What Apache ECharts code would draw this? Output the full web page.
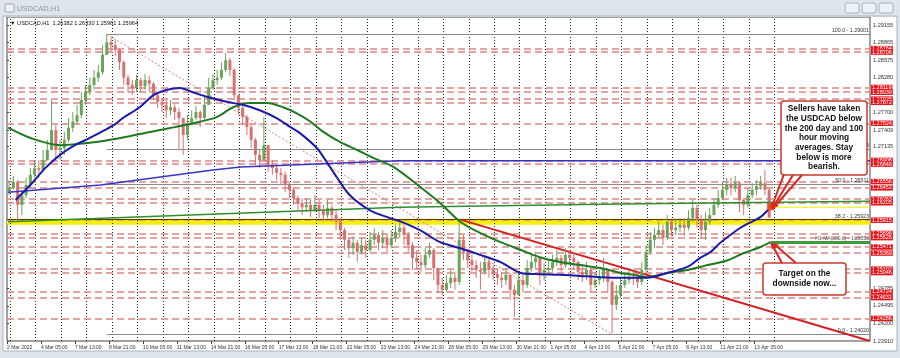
<!DOCTYPE html>
<html><head><meta charset="utf-8">
<script src="https://cdn.jsdelivr.net/npm/echarts@6/dist/echarts.min.js"></script>
<style>html,body{margin:0;padding:0;background:#dfe5ec;}#c{width:900px;height:358px;}</style>
</head><body><div id="c"></div>
<script>
// ---------- DATA ----------
const dateLabels = ["2 Mar 2022","4 Mar 05:00","7 Mar 13:00","8 Mar 21:00","10 Mar 05:00","11 Mar 13:00","14 Mar 21:00","16 Mar 05:00","17 Mar 13:00","18 Mar 21:00","22 Mar 05:00","23 Mar 13:00","24 Mar 21:00","28 Mar 05:00","29 Mar 13:00","30 Mar 21:00","1 Apr 05:00","4 Apr 13:00","5 Apr 21:00","7 Apr 05:00","8 Apr 13:00","11 Apr 21:00","13 Apr 05:00"];
const yTicks = [1.29155,1.28865,1.28575,1.28280,1.27700,1.27409,1.27135,1.24785,1.24495,1.24200,1.23910];
// 4-hour candles (each = 4 H1 bars), open = previous close
const firstOpen = 1.2640;
const closes = [1.2645,1.2655,1.2617,1.2633,1.2650,1.2667,1.2678,1.2675,1.2691,1.2708,
1.2741,1.2708,1.2711,1.2725,1.2745,1.2755,1.2766,1.2791,1.2804,1.2816,
1.2828,1.2837,1.2866,1.2887,1.2882,1.2874,1.2854,1.2828,1.2816,1.2811,
1.2824,1.2814,1.2824,1.2818,1.2799,1.2788,1.2783,1.2774,1.2779,1.2771,
1.2761,1.2733,1.2750,1.2761,1.2771,1.2761,1.2783,1.2811,1.2824,1.2828,
1.2841,1.2857,1.2841,1.2799,1.2778,1.2763,1.2746,1.2725,1.2700,1.2691,
1.2716,1.2683,1.2678,1.2670,1.2667,1.2650,1.2642,1.2628,1.2620,1.2613,
1.2617,1.2608,1.2617,1.2608,1.2600,1.2612,1.2600,1.2589,1.2575,1.2559,
1.2545,1.2554,1.2539,1.2550,1.2542,1.2559,1.2567,1.2554,1.2562,1.2550,
1.2562,1.2572,1.2579,1.2567,1.2550,1.2529,1.2522,1.2517,1.2534,1.2542,
1.2512,1.2484,1.2476,1.2487,1.2496,1.2489,1.2559,1.2539,1.2525,1.2517,
1.2509,1.2506,1.2522,1.2509,1.2502,1.2496,1.2492,1.2501,1.2476,1.2467,
1.2492,1.2484,1.2512,1.2522,1.2529,1.2501,1.2509,1.2512,1.2522,1.2529,
1.2517,1.2534,1.2529,1.2522,1.2506,1.2501,1.2509,1.2484,1.2492,1.2496,
1.2509,1.2489,1.2451,1.2467,1.2484,1.2492,1.2497,1.2496,1.2489,1.2509,
1.2539,1.2559,1.2567,1.2575,1.2562,1.2589,1.2575,1.2579,1.2584,1.2579,
1.2595,1.2612,1.2592,1.2575,1.2589,1.2600,1.2617,1.2628,1.2642,1.2650,
1.2645,1.2653,1.2625,1.2617,1.2633,1.2642,1.2648,1.2653,1.2642,1.2596];
const highs = [1.2658,1.2665,1.2658,1.2642,1.2662,1.2678,1.2691,1.2691,1.2708,1.2725,
1.2791,1.2750,1.2725,1.2738,1.2761,1.2771,1.2783,1.2804,1.2816,1.2828,
1.2841,1.2849,1.2882,1.2900,1.2894,1.2891,1.2877,1.2857,1.2833,1.2824,
1.2833,1.2828,1.2834,1.2831,1.2821,1.2804,1.2794,1.2791,1.2791,1.2784,
1.2778,1.2761,1.2766,1.2774,1.2781,1.2774,1.2799,1.2828,1.2834,1.2841,
1.2854,1.2869,1.2861,1.2844,1.2799,1.2783,1.2766,1.2750,1.2728,1.2708,
1.2763,1.2716,1.2691,1.2683,1.2678,1.2672,1.2655,1.2645,1.2633,1.2628,
1.2628,1.2625,1.2633,1.2625,1.2617,1.2625,1.2617,1.2608,1.2595,1.2579,
1.2562,1.2565,1.2559,1.2562,1.2559,1.2572,1.2579,1.2572,1.2575,1.2567,
1.2575,1.2584,1.2589,1.2584,1.2572,1.2555,1.2542,1.2534,1.2545,1.2554,
1.2545,1.2509,1.2496,1.2501,1.2509,1.2506,1.2589,1.2567,1.2542,1.2534,
1.2525,1.2522,1.2534,1.2529,1.2517,1.2512,1.2506,1.2512,1.2501,1.2484,
1.2506,1.2501,1.2525,1.2534,1.2539,1.2522,1.2520,1.2525,1.2534,1.2542,
1.2534,1.2545,1.2542,1.2539,1.2525,1.2517,1.2522,1.2512,1.2506,1.2509,
1.2529,1.2512,1.2492,1.2484,1.2496,1.2502,1.2509,1.2506,1.2506,1.2522,
1.2550,1.2572,1.2579,1.2589,1.2584,1.2600,1.2592,1.2592,1.2595,1.2595,
1.2608,1.2625,1.2617,1.2600,1.2605,1.2612,1.2628,1.2642,1.2655,1.2662,
1.2662,1.2665,1.2655,1.2628,1.2645,1.2653,1.2658,1.2665,1.2675,1.2645];
const lows = [1.2633,1.2642,1.2589,1.2600,1.2628,1.2645,1.2662,1.2662,1.2672,1.2691,
1.2708,1.2695,1.2691,1.2700,1.2721,1.2738,1.2750,1.2761,1.2783,1.2799,
1.2808,1.2821,1.2833,1.2866,1.2871,1.2864,1.2841,1.2816,1.2804,1.2799,
1.2804,1.2804,1.2808,1.2804,1.2791,1.2778,1.2771,1.2761,1.2766,1.2758,
1.2708,1.2700,1.2725,1.2750,1.2758,1.2746,1.2758,1.2783,1.2808,1.2816,
1.2824,1.2837,1.2831,1.2791,1.2766,1.2750,1.2733,1.2711,1.2683,1.2678,
1.2691,1.2672,1.2667,1.2658,1.2650,1.2638,1.2628,1.2617,1.2608,1.2600,
1.2605,1.2597,1.2605,1.2595,1.2589,1.2595,1.2589,1.2575,1.2559,1.2542,
1.2529,1.2534,1.2522,1.2534,1.2529,1.2539,1.2550,1.2542,1.2545,1.2539,
1.2545,1.2555,1.2562,1.2550,1.2539,1.2509,1.2509,1.2506,1.2512,1.2529,
1.2492,1.2471,1.2467,1.2472,1.2479,1.2476,1.2484,1.2525,1.2512,1.2506,
1.2496,1.2476,1.2501,1.2496,1.2492,1.2484,1.2479,1.2484,1.2459,1.2431,
1.2467,1.2472,1.2479,1.2506,1.2512,1.2484,1.2492,1.2501,1.2506,1.2515,
1.2506,1.2512,1.2517,1.2509,1.2492,1.2489,1.2492,1.2472,1.2479,1.2484,
1.2489,1.2472,1.2404,1.2442,1.2462,1.2479,1.2486,1.2484,1.2479,1.2484,
1.2506,1.2534,1.2545,1.2562,1.2550,1.2559,1.2565,1.2567,1.2572,1.2565,
1.2575,1.2589,1.2579,1.2562,1.2559,1.2584,1.2600,1.2612,1.2625,1.2633,
1.2633,1.2638,1.2605,1.2600,1.2612,1.2628,1.2633,1.2642,1.2633,1.2596];
// moving averages: [hour index, price]
const ma100h = [[8,1.2625],[22,1.2650],[36,1.2678],[50,1.2700],[64,1.2716],[78,1.2728],[92,1.2741],[102,1.2751],[109,1.2761],[125,1.2779],[138,1.2799],[151,1.2808],[163,1.2811],[175,1.2804],[189,1.2796],[207,1.2788],[222,1.2783],[238,1.2774],[254,1.2761],[267,1.2746],[276,1.2736],[292,1.2711],[302,1.2686],[311,1.2662],[323,1.2633],[342,1.2608],[361,1.2595],[370,1.2590],[389,1.2575],[408,1.2555],[427,1.2545],[446,1.2534],[465,1.2522],[484,1.2504],[502,1.2502],[521,1.2501],[540,1.2499],[559,1.2497],[578,1.2496],[603,1.2496],[622,1.2504],[641,1.2514],[653,1.2529],[663,1.2539],[672,1.2554],[691,1.2579],[710,1.2597],[719,1.2613]];
const ma200h = [[1,1.2745],[22,1.2728],[50,1.2716],[78,1.2720],[107,1.2728],[135,1.2738],[158,1.2746],[182,1.2755],[198,1.2763],[213,1.2779],[229,1.2786],[245,1.2786],[260,1.2779],[273,1.2769],[286,1.2755],[298,1.2738],[314,1.2721],[330,1.2708],[345,1.2695],[364,1.2680],[389,1.2647],[408,1.2620],[427,1.2589],[446,1.2570],[465,1.2555],[484,1.2542],[502,1.2530],[521,1.2522],[540,1.2517],[559,1.2512],[578,1.2504],[590,1.2501],[603,1.2497],[622,1.2504],[641,1.2509],[660,1.2517],[679,1.2525],[694,1.2537],[710,1.2547],[719,1.2555]];
const ma100d = [[1,1.2638],[88,1.2650],[194,1.2675],[220,1.2680],[370,1.2690],[813,1.2690]];
const ma200d = [[1,1.2589],[370,1.2613],[559,1.2618],[813,1.2623]];
const maTags = ["D1 MA(200,0) - 1.26233","H1 MA(100,0) - 1.26111","H1 MA(200,0) - 1.25555"];
const redLevels = [1.28764,1.28706,1.28119,1.28039,1.27925,1.27872,1.27524,1.26908,1.26846,1.26556,1.26452,1.26263,1.26205,1.25915,1.25696,1.25626,1.25471,1.25369,1.25102,1.25046,1.24724,1.24631,1.24286];
const fibHigh = 1.29001, fibLow = 1.24020, fibHighHour = 94, fibLowHour = 570;
const fibPcts = [100.0, 61.8, 50.0, 38.2, 0.0];
const trendLine = [[428,1.2592],[813,1.2391]];
const yellowBand = [1.2594, 1.2584];
const lastPrice = 1.25964;
const infoText = "\u25BC USDCAD,H1  1.26382 1.26330 1.25961 1.25964";

// ---------- CHART ----------
const XMAX = 813;
const candles = closes.map((c,k)=>[4*k+2, k===0?firstOpen:closes[k-1], c, lows[k], highs[k]]);
const dayLines = []; for (let h=3; h<=723; h+=24) dayLines.push({xAxis:h});
const labelHours = dateLabels.map((_,i)=>i*32);
const FONT = 'Liberation Sans';
const bull = '#6aa35a', bear = '#d87070';

const chart = echarts.init(document.getElementById('c'));
const fibLines = fibPcts.map(p=>{
  const v = fibLow + (fibHigh-fibLow)*p/100;
  return [{coord:[fibHighHour, v], label:{formatter: p.toFixed(1)+' - '+v.toFixed(5)}},{coord:[XMAX, v]}];
});
const lastMA200 = ma200h[ma200h.length-1][1];
const lastMA100 = ma100h[ma100h.length-1][1];
const lastD200 = ma200d[ma200d.length-1][1];

chart.setOption({
  animation:false,
  backgroundColor:'#ffffff',
  textStyle:{fontFamily:FONT},
  grid:{left:7,right:30,top:17,bottom:17,show:true,borderColor:'#444',borderWidth:1,backgroundColor:'#fff'},
  xAxis:{type:'value',min:0,max:XMAX,interval:32,
    axisLine:{show:false},splitLine:{show:false},
    axisTick:{show:true,length:3,lineStyle:{color:'#444'},customValues:labelHours},
    axisLabel:{fontSize:5,color:'#333',align:'left',margin:4,showMinLabel:true,showMaxLabel:false,hideOverlap:false,
      formatter:v=>dateLabels[Math.round(v/32)]||''}},
  yAxis:{type:'value',position:'right',min:1.23910,max:1.29288,
    axisLine:{show:false},splitLine:{show:false},
    axisTick:{show:true,length:2,lineStyle:{color:'#444'},customValues:yTicks},
    axisLabel:{fontSize:5.6,color:'#333',margin:3,customValues:yTicks,formatter:v=>v.toFixed(5)}},
  series:[
    {type:'line',data:[],z:1,silent:true,
      markLine:{silent:true,symbol:['none','none'],animation:false,precision:5,
        lineStyle:{color:'#222',type:[1,2],width:1},label:{show:false},data:dayLines}},
    {type:'line',data:[],z:2,silent:true,
      markArea:{silent:true,precision:5,itemStyle:{color:'#f4f000'},data:[
        [{yAxis:yellowBand[0]},{yAxis:yellowBand[1]}],
        [{coord:[719,lastMA100+0.00008]},{coord:[XMAX,lastMA100-0.00008]}]
      ]}},
    {type:'line',data:[],z:3,silent:true,
      markLine:{silent:true,symbol:['none','none'],animation:false,precision:5,
        lineStyle:{color:'#dc8686',type:[7,4],width:1.5},
        label:{show:true,position:'end',distance:1,formatter:p=>Number(p.value).toFixed(5),
          backgroundColor:'#e8151b',color:'#fff',fontSize:5.5,padding:[0,1,0,1],lineHeight:5.5},
        data:redLevels.map(v=>({yAxis:v}))}},
    {type:'line',data:[],z:4,silent:true,
      markLine:{silent:true,symbol:['none','none'],animation:false,precision:5,
        lineStyle:{color:'#8a8a8a',type:'solid',width:1},
        label:{show:true,position:'insideEndTop',distance:1,fontSize:5.3,color:'#333'},
        data:fibLines}},
    {type:'line',data:[],z:4,silent:true,
      markLine:{silent:true,symbol:['none','none'],animation:false,precision:5,
        label:{show:true,position:'insideEndTop',distance:1,fontSize:5,color:'#555'},
        data:[
          [{coord:[fibHighHour,fibHigh],lineStyle:{color:'#d98080',type:[2,2],width:1},label:{show:false}},{coord:[fibLowHour,fibLow]}],
          {yAxis:yellowBand[0]-0.0001,lineStyle:{color:'#5a3a20',type:'solid',width:1},label:{show:false}},
          [{coord:trendLine[0],lineStyle:{color:'#d42020',width:2,type:'solid'},label:{show:false}},{coord:trendLine[1]}],
          [{coord:[719,lastMA200],lineStyle:{color:'#3d9a3d',width:3,type:'solid'},label:{formatter:maTags[2]}},{coord:[XMAX,lastMA200]}],
          [{coord:[719,lastMA100],lineStyle:{opacity:0},label:{formatter:maTags[1],position:'insideEndTop',distance:-3}},{coord:[XMAX,lastMA100]}],
          [{coord:[620,lastD200],lineStyle:{opacity:0},label:{formatter:maTags[0]}},{coord:[XMAX,lastD200]}]
        ]}},
    {type:'custom',z:5,data:candles,
      renderItem:function(params,api){
        const x=api.value(0),o=api.value(1),c=api.value(2),l=api.value(3),h=api.value(4);
        const pO=api.coord([x,o]),pC=api.coord([x,c]),pL=api.coord([x,l]),pH=api.coord([x,h]);
        const col=c>=o?bull:bear;
        const top=Math.min(pO[1],pC[1]),bot=Math.max(pO[1],pC[1]);
        return {type:'group',children:[
          {type:'line',shape:{x1:pH[0],y1:pH[1],x2:pL[0],y2:pL[1]},style:{stroke:col,lineWidth:1}},
          {type:'rect',shape:{x:pO[0]-1.5,y:top,width:3,height:Math.max(1,bot-top)},style:{fill:col}}
        ]};
      }},
    {type:'line',z:6,data:ma100d,showSymbol:false,lineStyle:{color:'#3535c8',width:1.5}},
    {type:'line',z:6,data:ma200d,showSymbol:false,lineStyle:{color:'#2f8f2f',width:1.5}},
    {type:'line',z:7,data:ma200h,showSymbol:false,smooth:0.3,lineStyle:{color:'#1f7a1f',width:2}},
    {type:'line',z:7,data:ma100h,showSymbol:false,smooth:0.3,lineStyle:{color:'#1a1aaa',width:2}},
    {type:'line',data:[],z:8,silent:true,
      markLine:{silent:true,symbol:['none','none'],animation:false,precision:5,lineStyle:{opacity:0},
        label:{show:true,position:'end',distance:1,formatter:p=>Number(p.value).toFixed(5),
          backgroundColor:'#000',color:'#fff',fontSize:5.5,padding:[0,1,0,1],lineHeight:5.5},
        data:[{yAxis:lastPrice}]}}
  ]
});

// ---------- ANNOTATIONS / WINDOW CHROME ----------
const P = (h,p)=>chart.convertToPixel({gridIndex:0},[h,p]);
const tip1 = P(719, lastMA100);
const tip2 = P(719, lastMA200);
function arrow(x1,y1,x2,y2){
  const a=Math.atan2(y2-y1,x2-x1), L=6, w=0.45;
  return [
    {type:'line',shape:{x1,y1,x2,y2},style:{stroke:'#d62a22',lineWidth:2},z:100},
    {type:'polygon',shape:{points:[[x2,y2],[x2-L*Math.cos(a-w),y2-L*Math.sin(a-w)],[x2-L*Math.cos(a+w),y2-L*Math.sin(a+w)]]},style:{fill:'#d62a22'},z:100}
  ];
}
const box1Lines = ["Sellers have taken","the USDCAD below","the 200 day and 100","hour moving","averages. Stay","below is more","bearish."];
const box2Lines = ["Target on the","downside now..."];
const g = [
  {type:'rect',shape:{x:0,y:0,width:900,height:17},style:{fill:'#dfe5ec'},z:90},
  {type:'rect',shape:{x:0,y:351,width:900,height:7},style:{fill:'#dfe5ec'},z:90},
  {type:'rect',shape:{x:0,y:0,width:3,height:358},style:{fill:'#dfe5ec'},z:90},
  {type:'rect',shape:{x:897,y:0,width:3,height:358},style:{fill:'#dfe5ec'},z:90},
  {type:'rect',shape:{x:3,y:16,width:894,height:335},style:{fill:null,stroke:'#aab4c0',lineWidth:1},z:90},
  {type:'rect',shape:{x:5,y:4,width:9,height:8,r:1},style:{fill:'#eef2f6',stroke:'#9aa6b2',lineWidth:1},z:91},
  {type:'text',x:17,y:5,style:{text:'USDCAD,H1',font:'7.5px '+FONT,fill:'#8a96a3'},z:91},
  {type:'rect',shape:{x:845,y:3,width:14,height:10,r:2},style:{fill:'#eef2f6',stroke:'#a7b1bc'},z:91},
  {type:'rect',shape:{x:862,y:3,width:14,height:10,r:2},style:{fill:'#eef2f6',stroke:'#a7b1bc'},z:91},
  {type:'rect',shape:{x:879,y:3,width:14,height:10,r:2},style:{fill:'#eef2f6',stroke:'#a7b1bc'},z:91},
  {type:'text',x:10,y:20,style:{text:infoText,font:'5.6px '+FONT,fill:'#111'},z:95},
  {type:'rect',shape:{x:781,y:101,width:86,height:74,r:3},style:{fill:'#fff',stroke:'#c73a30',lineWidth:1.5},z:100},
  {type:'text',x:824,y:104,style:{text:box1Lines.join('\n'),font:'bold 8.3px '+FONT,fill:'#111',align:'center',lineHeight:9.7},z:101},
  {type:'rect',shape:{x:763,y:263,width:83,height:32,r:3},style:{fill:'#fff',stroke:'#c73a30',lineWidth:1.5},z:100},
  {type:'text',x:804.5,y:269,style:{text:box2Lines.join('\n'),font:'bold 8.3px '+FONT,fill:'#111',align:'center',lineHeight:10},z:101},
  {type:'rect',shape:{x:tip1[0]-3,y:tip1[1]-4,width:7,height:7},style:{fill:'#ec4a1c'},z:99}
];
[].concat(
  arrow(784,174,tip1[0]+1,tip1[1]+1),
  arrow(793,175,tip1[0]+2,tip1[1]+1),
  arrow(802,175,tip1[0]+3,tip1[1]+1),
  arrow(782,263,tip2[0]+1,tip2[1]+1),
  arrow(796,263,tip2[0]+3,tip2[1]+1)
).forEach(e=>g.push(e));
chart.setOption({graphic:g});
</script></body></html>
